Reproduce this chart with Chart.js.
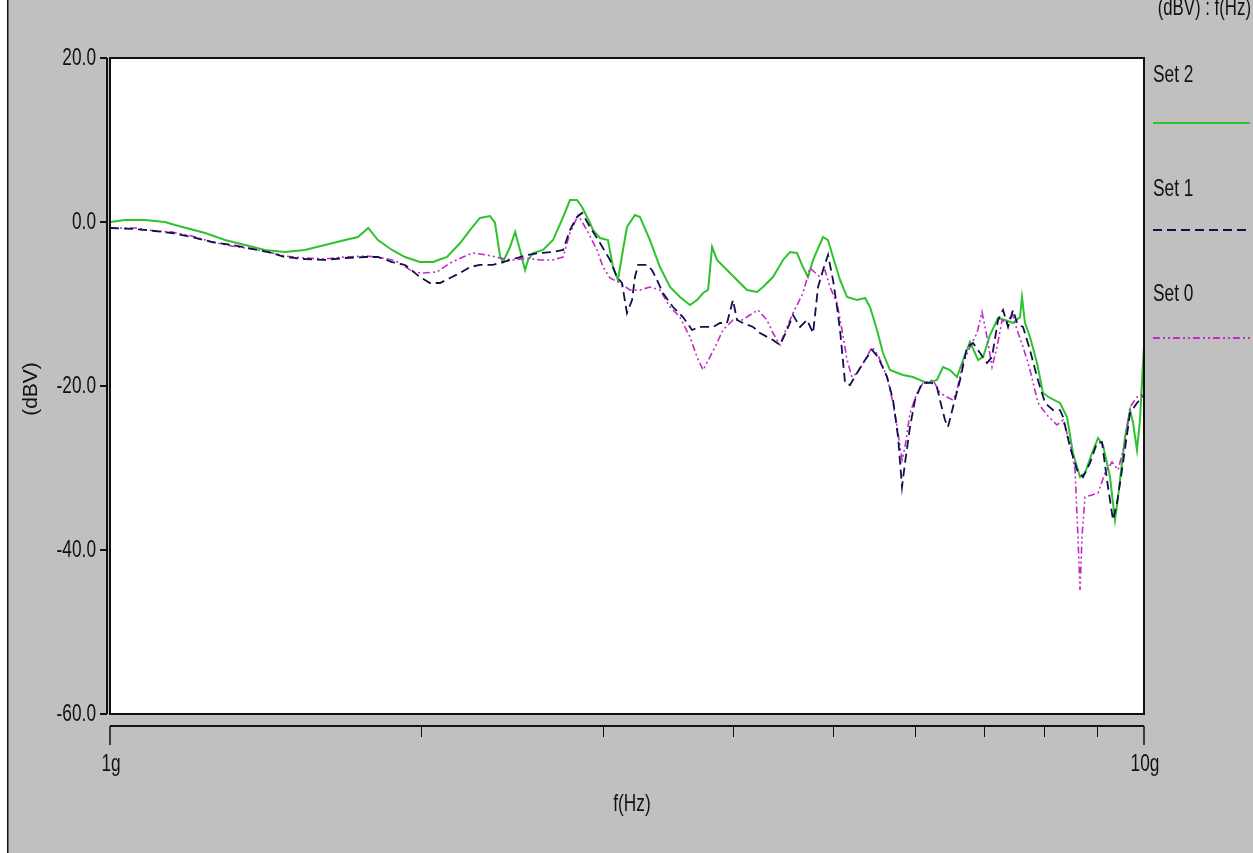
<!DOCTYPE html>
<html>
<head>
<meta charset="utf-8">
<script src="https://cdn.jsdelivr.net/npm/chart.js@4.4.1/dist/chart.umd.min.js"></script>
<style>
  html, body { margin: 0; padding: 0; background: #ffffff; }
  canvas { display: block; }
</style>
</head>
<body>
<canvas id="c" width="1253" height="853"></canvas>
<script>
// Frequencies in GHz, levels in dBV
const set2Freq = [1.0,1.034,1.081,1.130,1.156,1.236,1.292,1.351,1.412,1.476,1.543,1.614,1.688,1.737,1.777,1.816,1.874,1.929,1.994,2.053,2.118,2.181,2.229,2.279,2.331,2.357,2.384,2.399,2.437,2.465,2.492,2.520,2.537,2.566,2.623,2.682,2.743,2.785,2.829,2.861,2.912,2.932,2.978,3.031,3.065,3.099,3.134,3.162,3.219,3.255,3.328,3.403,3.480,3.558,3.638,3.696,3.746,3.788,3.822,3.864,3.951,4.040,4.131,4.224,4.281,4.377,4.476,4.546,4.617,4.679,4.732,4.786,4.893,4.948,5.003,5.082,5.162,5.278,5.373,5.433,5.518,5.592,5.680,5.846,5.978,6.167,6.306,6.391,6.492,6.594,6.683,6.788,6.911,6.988,7.097,7.225,7.339,7.471,7.588,7.621,7.672,7.758,7.880,7.986,8.111,8.294,8.424,8.537,8.672,8.769,8.907,9.027,9.127,9.271,9.333,9.376,9.438,9.586,9.694,9.759,9.845,9.911,10.0];
const set2Level = [0,0.24,0.24,0,-0.37,-1.34,-2.20,-2.80,-3.41,-3.66,-3.41,-2.80,-2.20,-1.83,-0.73,-2.20,-3.41,-4.27,-4.88,-4.88,-4.27,-2.56,-0.98,0.49,0.73,-0.12,-4.27,-4.88,-3.05,-1.22,-3.41,-5.85,-4.63,-3.78,-3.41,-2.20,0.61,2.68,2.68,1.83,-0.12,-0.98,-1.95,-2.20,-5.49,-7.07,-3.41,-0.61,0.85,0.61,-2.20,-5.49,-7.93,-9.15,-10.12,-9.51,-8.66,-8.29,-3.05,-4.63,-5.85,-7.07,-8.29,-8.54,-7.93,-6.71,-4.63,-3.66,-3.78,-5.49,-6.71,-4.63,-1.83,-2.20,-4.27,-7.07,-9.15,-9.51,-9.27,-10.37,-13.17,-15.98,-18.05,-18.66,-18.90,-19.63,-19.27,-17.68,-18.05,-18.90,-16.83,-14.63,-16.83,-16.46,-13.78,-11.71,-11.95,-12.32,-11.59,-9.15,-12.32,-14.02,-17.20,-20.85,-21.46,-22.07,-23.78,-28.17,-31.10,-30.61,-28.17,-26.34,-27.20,-31.10,-34.27,-36.34,-33.54,-26.22,-22.93,-24.51,-27.80,-24.15,-15.0];

const set1Freq = [1.0,1.057,1.105,1.148,1.200,1.255,1.312,1.372,1.422,1.476,1.543,1.614,1.688,1.765,1.816,1.874,1.929,1.994,2.039,2.085,2.132,2.181,2.229,2.279,2.346,2.399,2.475,2.531,2.606,2.682,2.743,2.785,2.829,2.861,2.912,2.978,3.045,3.092,3.127,3.162,3.198,3.219,3.241,3.306,3.343,3.381,3.426,3.503,3.582,3.655,3.720,3.830,3.890,3.951,4.004,4.040,4.094,4.187,4.252,4.377,4.446,4.516,4.577,4.649,4.722,4.786,4.839,4.893,4.948,5.003,5.048,5.082,5.139,5.196,5.278,5.373,5.457,5.530,5.643,5.719,5.783,5.834,5.873,5.939,6.005,6.099,6.237,6.306,6.348,6.420,6.463,6.536,6.639,6.743,6.833,6.941,7.050,7.129,7.225,7.306,7.388,7.471,7.538,7.639,7.758,7.880,8.023,8.166,8.294,8.350,8.481,8.614,8.730,8.867,9.006,9.107,9.209,9.333,9.417,9.543,9.694,9.845,10.0];
const set1Level = [-0.73,-0.85,-1.10,-1.34,-1.83,-2.44,-2.80,-3.29,-3.66,-4.27,-4.51,-4.63,-4.39,-4.27,-4.27,-4.88,-5.24,-6.71,-7.44,-7.44,-6.83,-6.22,-5.49,-5.24,-5.24,-4.88,-4.39,-4.02,-3.78,-3.66,-3.41,-0.98,0.61,1.10,-0.61,-2.56,-4.63,-6.71,-7.44,-11.10,-9.51,-6.71,-5.24,-5.24,-5.85,-7.07,-8.66,-10.37,-11.59,-13.17,-12.80,-12.80,-12.32,-12.32,-9.51,-11.95,-12.32,-12.80,-13.54,-14.39,-15.0,-13.17,-11.34,-12.80,-11.95,-13.54,-7.93,-5.85,-4.02,-7.07,-10.37,-13.17,-19.63,-19.88,-18.41,-16.83,-15.61,-16.46,-18.90,-21.71,-26.22,-32.32,-29.39,-25.0,-21.71,-19.63,-19.63,-20.12,-21.71,-24.15,-25.0,-22.56,-19.27,-15.24,-14.76,-15.98,-17.20,-16.46,-11.95,-10.73,-12.80,-10.73,-12.32,-12.80,-15.61,-18.90,-22.07,-22.93,-22.93,-23.78,-27.44,-30.24,-31.10,-29.39,-26.95,-26.83,-31.46,-36.34,-34.27,-29.39,-23.29,-22.07,-21.10];

const set0Freq = [1.0,1.057,1.105,1.148,1.200,1.255,1.312,1.372,1.422,1.476,1.543,1.614,1.688,1.765,1.816,1.874,1.908,1.963,2.007,2.071,2.132,2.195,2.244,2.314,2.384,2.453,2.531,2.606,2.682,2.743,2.785,2.836,2.892,2.958,2.998,3.045,3.113,3.183,3.255,3.328,3.403,3.480,3.558,3.638,3.696,3.746,3.804,3.864,3.915,4.004,4.085,4.159,4.233,4.319,4.377,4.446,4.516,4.577,4.679,4.753,4.860,4.914,4.969,5.048,5.104,5.162,5.219,5.278,5.373,5.457,5.530,5.643,5.719,5.783,5.834,5.873,5.939,6.033,6.113,6.251,6.348,6.449,6.536,6.594,6.683,6.788,6.895,6.972,7.050,7.129,7.209,7.290,7.372,7.455,7.538,7.639,7.758,7.898,8.057,8.239,8.350,8.481,8.576,8.633,8.672,8.710,8.769,8.907,9.027,9.168,9.313,9.438,9.586,9.694,9.845,10.0];
const set0Level = [-0.73,-0.73,-1.10,-1.22,-1.71,-2.44,-2.93,-3.29,-3.66,-4.15,-4.39,-4.51,-4.27,-4.15,-4.27,-4.63,-5.0,-6.10,-6.22,-6.10,-5.0,-4.27,-3.78,-4.02,-4.39,-4.63,-4.39,-4.63,-4.63,-4.27,-1.34,0.85,-0.98,-3.41,-5.49,-6.83,-7.44,-8.29,-8.29,-7.93,-8.29,-10.37,-11.59,-14.02,-16.46,-18.05,-16.46,-14.76,-13.17,-11.95,-11.95,-11.34,-10.73,-11.95,-13.54,-15.0,-12.80,-11.10,-8.66,-5.61,-6.71,-5.85,-7.93,-9.88,-13.17,-16.83,-18.90,-18.41,-16.83,-15.24,-16.22,-18.90,-22.07,-25.73,-29.02,-27.44,-23.29,-20.85,-19.63,-19.27,-20.85,-21.34,-21.71,-20.49,-17.20,-15.24,-13.54,-10.98,-14.02,-17.68,-15.24,-11.95,-12.32,-11.10,-13.17,-15.24,-18.05,-22.07,-23.54,-24.76,-24.15,-26.95,-30.24,-38.41,-44.88,-38.41,-33.54,-33.29,-33.05,-30.61,-29.27,-30.24,-26.95,-22.56,-21.34,-20.85];

// Axis ticks
const yTickValues = [20, 0, -20, -40, -60];
const xMajorTicks = [1, 10];
const xMajorLabels = ['1g', '10g'];
const xMinorTicks = [2, 3, 4, 5, 6, 7, 8, 9];
const yAxisTitle = '(dBV)';
const xAxisTitle = 'f(Hz)';
const legendHeader = '(dBV) : f(Hz)';

function points(freq, level) {
  return freq.map((f, i) => ({ x: f, y: level[i] }));
}

const FONT = '24px "Liberation Sans", Arial, sans-serif';
const SX = 0.72;

// Horizontally condensed text
function narrowText(ctx, str, x, y, align, sx) {
  ctx.save();
  ctx.translate(x, y);
  ctx.scale(sx, 1);
  ctx.textAlign = align;
  ctx.fillText(str, 0, 0);
  ctx.restore();
}

const panel = {
  id: 'panel',
  beforeDraw(chart) {
    const { ctx, chartArea: a } = chart;
    ctx.save();
    ctx.fillStyle = '#c0c0c0';
    ctx.fillRect(0, 0, chart.width, chart.height);
    ctx.fillStyle = '#ffffff';
    ctx.fillRect(0, 0, 7, chart.height);
    ctx.fillStyle = '#111111';
    ctx.fillRect(7, 0, 1.5, chart.height);
    ctx.fillStyle = '#ffffff';
    ctx.fillRect(a.left, a.top, a.right - a.left, a.bottom - a.top);
    ctx.restore();
  },
  afterDatasetsDraw(chart) {
    const { ctx, chartArea: a, scales: { x, y } } = chart;
    ctx.save();
    ctx.strokeStyle = '#111111';
    ctx.fillStyle = '#111111';

    // plot frame
    ctx.lineWidth = 2;
    ctx.strokeRect(a.left, a.top, a.right - a.left, a.bottom - a.top);

    // y axis line with ticks
    const ax = a.left - 3;
    ctx.lineWidth = 2;
    ctx.beginPath();
    ctx.moveTo(ax, y.getPixelForValue(20));
    ctx.lineTo(ax, y.getPixelForValue(-60));
    ctx.stroke();
    ctx.font = FONT;
    ctx.textBaseline = 'middle';
    yTickValues.forEach(v => {
      const py = y.getPixelForValue(v);
      ctx.beginPath();
      ctx.moveTo(ax - 7, py);
      ctx.lineTo(ax, py);
      ctx.stroke();
      narrowText(ctx, v.toFixed(1), ax - 11, py, 'right', SX);
    });

    // x axis line, detached below the plot
    const ay = a.bottom + 12;
    ctx.beginPath();
    ctx.moveTo(x.getPixelForValue(1), ay);
    ctx.lineTo(x.getPixelForValue(10), ay);
    ctx.stroke();
    ctx.lineWidth = 1;
    xMinorTicks.forEach(v => {
      const px = Math.round(x.getPixelForValue(v)) + 0.5;
      ctx.beginPath();
      ctx.moveTo(px, ay);
      ctx.lineTo(px, ay + 11);
      ctx.stroke();
    });
    ctx.lineWidth = 1.5;
    xMajorTicks.forEach((v, i) => {
      const px = x.getPixelForValue(v);
      ctx.beginPath();
      ctx.moveTo(px, ay);
      ctx.lineTo(px, ay + 19);
      ctx.stroke();
      narrowText(ctx, xMajorLabels[i], px + 1, ay + 38, 'center', SX);
    });

    // axis titles
    narrowText(ctx, xAxisTitle, (a.left + a.right) / 2 + 5, ay + 78, 'center', SX);
    ctx.save();
    ctx.translate(31, (a.top + a.bottom) / 2 + 3);
    ctx.rotate(-Math.PI / 2);
    ctx.textAlign = 'center';
    ctx.font = '21px "Liberation Sans", Arial, sans-serif';
    ctx.fillText(yAxisTitle, 0, 0);
    ctx.restore();

    // legend on the right
    const lx0 = a.right + 9, lx1 = chart.width - 3;
    narrowText(ctx, legendHeader, chart.width - 2, 8, 'right', 0.7);
    const rows = [
      { ds: chart.data.datasets[2], labelY: 75, lineY: 123 },
      { ds: chart.data.datasets[1], labelY: 189, lineY: 230 },
      { ds: chart.data.datasets[0], labelY: 294, lineY: 338 }
    ];
    rows.forEach(r => {
      ctx.fillStyle = '#111111';
      narrowText(ctx, r.ds.label, lx0, r.labelY, 'left', SX);
      ctx.strokeStyle = r.ds.borderColor;
      ctx.lineWidth = 2;
      ctx.setLineDash(r.ds.borderDash || []);
      ctx.beginPath();
      ctx.moveTo(lx0, r.lineY);
      ctx.lineTo(lx1, r.lineY);
      ctx.stroke();
      ctx.setLineDash([]);
    });
    ctx.restore();
  }
};

new Chart(document.getElementById('c'), {
  type: 'line',
  data: {
    datasets: [
      {
        label: 'Set 0',
        data: points(set0Freq, set0Level),
        borderColor: '#c42ac4',
        borderWidth: 1.6,
        borderDash: [7, 3, 2, 3, 2, 3],
        order: 2
      },
      {
        label: 'Set 1',
        data: points(set1Freq, set1Level),
        borderColor: '#10104e',
        borderWidth: 1.8,
        borderDash: [9, 5],
        order: 1
      },
      {
        label: 'Set 2',
        data: points(set2Freq, set2Level),
        borderColor: '#2fc22f',
        borderWidth: 2,
        order: 3
      }
    ]
  },
  options: {
    responsive: false,
    animation: false,
    devicePixelRatio: 1,
    layout: { padding: { left: 110, top: 58, right: 109, bottom: 139 } },
    plugins: { legend: { display: false }, tooltip: { enabled: false } },
    elements: { point: { radius: 0 }, line: { tension: 0 } },
    scales: {
      x: { type: 'logarithmic', min: 1, max: 10, display: false },
      y: { type: 'linear', min: -60, max: 20, display: false }
    }
  },
  plugins: [panel]
});
</script>
</body>
</html>
